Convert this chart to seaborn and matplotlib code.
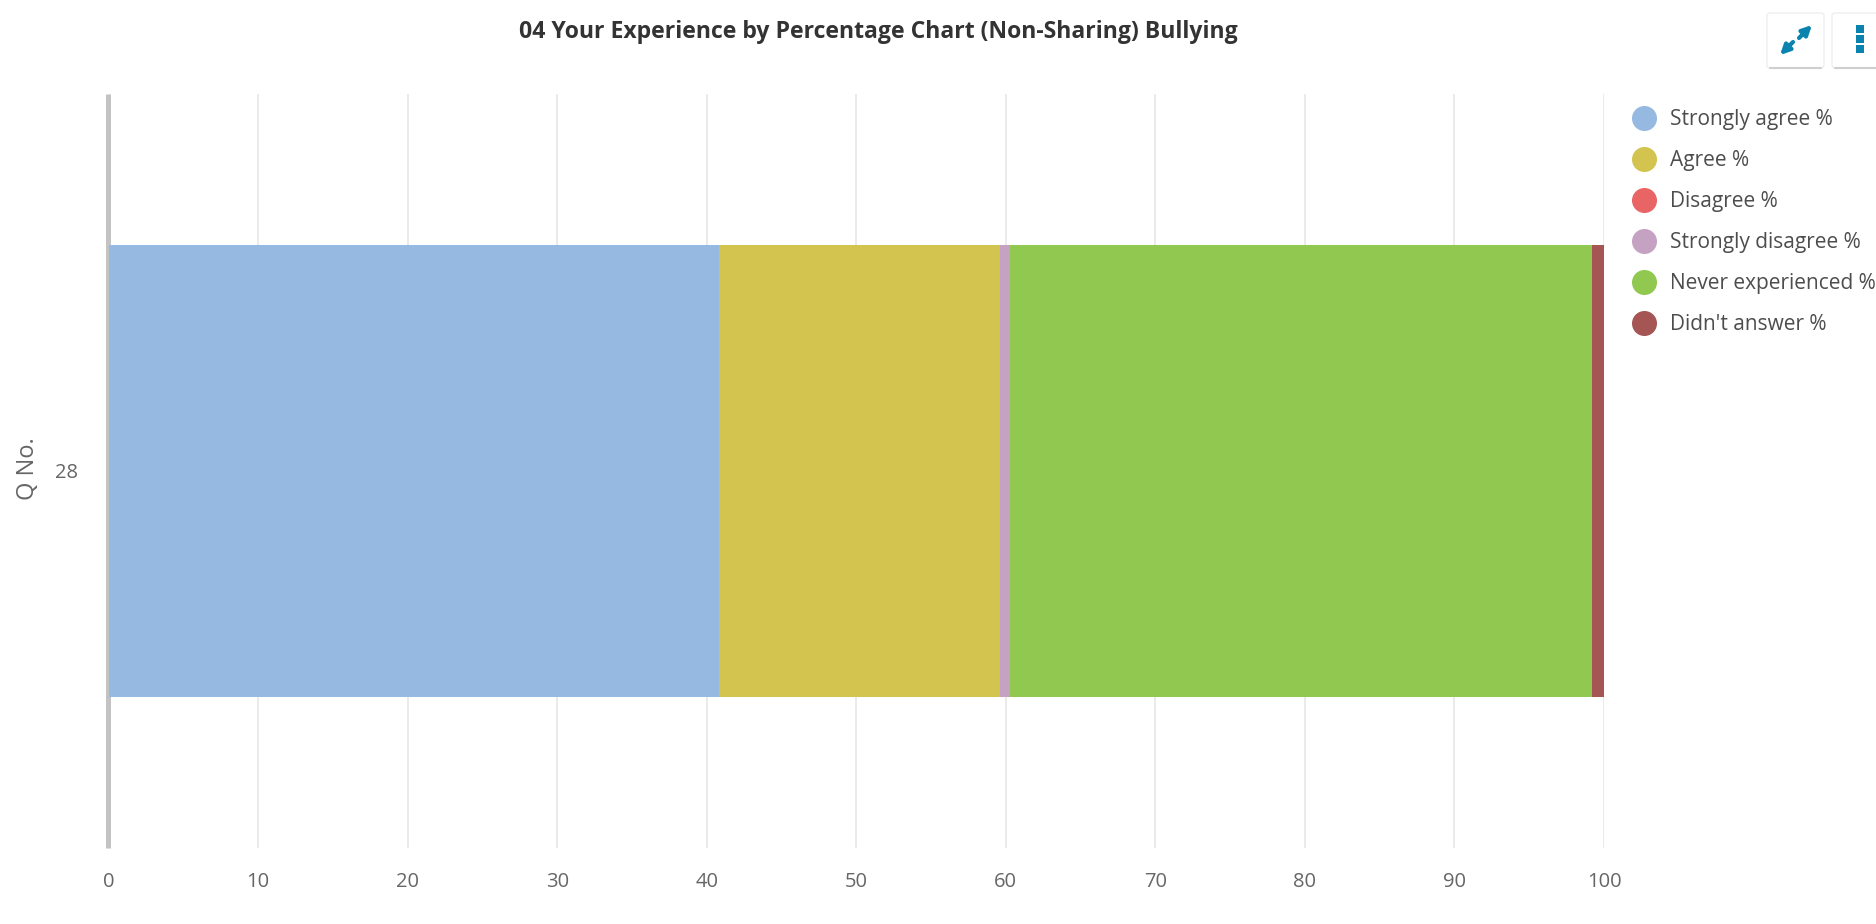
import matplotlib
matplotlib.use('Agg')
import matplotlib.pyplot as plt
import seaborn as sns
from matplotlib.lines import Line2D
from matplotlib.patches import FancyBboxPatch

question = ['28']
series = ['Strongly agree %', 'Agree %', 'Disagree %', 'Strongly disagree %',
          'Never experienced %', "Didn't answer %"]
values = [40.8, 18.8, 0.0, 0.7, 38.9, 0.8]
colors = ['#95b9e0', '#d3c44f', '#e96565', '#c6a2c2', '#90c850', '#a65555']
x_ticks = [0, 10, 20, 30, 40, 50, 60, 70, 80, 90, 100]

W, H = 1876, 924
sns.set_style('white')
plt.rcParams['font.family'] = ['Open Sans', 'DejaVu Sans']

fig = plt.figure(figsize=(W / 100, H / 100), dpi=100, facecolor='white')
ax = fig.add_axes([108.5 / W, 1 - 848 / H, (1604 - 108.5) / W, (848 - 94) / H])

# stacked bar, one barplot call per series
left = 0
for name, val, col in zip(series, values, colors):
    sns.barplot(x=[val], y=question, left=left, width=0.6, color=col, saturation=1,
                linewidth=0, ax=ax, zorder=3)
    left += val

ax.set_xlim(0, 100)
ax.set_ylim(0.5, -0.5)
ax.set_xticks(x_ticks)
ax.set_xticklabels([str(t) for t in x_ticks])
ax.grid(axis='x', color='#e6e6e6', lw=1.2, zorder=0)
ax.grid(axis='y', visible=False)
ax.set_axisbelow(True)
ax.tick_params(axis='x', length=0, pad=17.5, labelsize=14.5, labelcolor='#666666')
ax.tick_params(axis='y', length=0, pad=21, labelsize=14.5, labelcolor='#666666')
ax.set_yticks([-0.5, 0.5], minor=True)
ax.tick_params(axis='y', which='minor', length=6, width=1, color='#ccd6eb')
ax.set_xlabel('')
ax.set_ylabel('')
sns.despine(ax=ax, top=True, right=True, bottom=True)
ax.spines['left'].set_color('#c3c3c3')
ax.spines['left'].set_linewidth(3.6)
ax.spines['left'].set_position(('outward', 0.7))
ax.spines['left'].set_capstyle('butt')

fig.text(28 / W, 1 - 469 / H, 'Q No.', rotation=90, ha='center', va='center',
         fontsize=17, color='#666666')
fig.text(878 / W, 1 - 32 / H, '04 Your Experience by Percentage Chart (Non-Sharing) Bullying',
         ha='center', va='center', fontsize=16.6, fontweight='bold', color='#333333')

# legend
handles = [Line2D([], [], ls='', marker='o', ms=17, mfc=c, mec=c) for c in colors]
leg = fig.legend(handles, series, loc='upper left', bbox_to_anchor=(1627 / W, 1 - 109 / H),
                 bbox_transform=fig.transFigure, frameon=False, fontsize=15,
                 labelcolor='#4d4d4d', labelspacing=0.96, handletextpad=0.45,
                 handlelength=1.6, borderpad=0, borderaxespad=0)

# the two buttons at the top right
overlay = fig.add_axes([0, 0, 1, 1], facecolor='none')
overlay.set_xlim(0, W)
overlay.set_ylim(H, 0)
overlay.axis('off')
blue = '#0a84ae'
for bx, bw in [(1767, 57), (1832, 60)]:
    overlay.add_patch(FancyBboxPatch((bx + 3, 16), bw - 6, 49, boxstyle='round,pad=3',
                                     fc='#ffffff', ec='#eeeeee', lw=1, zorder=1))
    overlay.plot([bx + 3, bx + bw - 3], [68, 68], color='#cfcfcf', lw=1.5, zorder=1)
overlay.annotate('', xy=(1780, 55), xytext=(1793, 42),
                 arrowprops=dict(arrowstyle='-|>', color=blue, lw=3, mutation_scale=14, shrinkA=0, shrinkB=0))
overlay.annotate('', xy=(1812, 25), xytext=(1799, 38),
                 arrowprops=dict(arrowstyle='-|>', color=blue, lw=3, mutation_scale=14, shrinkA=0, shrinkB=0))
overlay.plot([1860, 1860, 1860], [29, 39, 49], ls='', marker='s', ms=5.5, mew=0, color=blue, zorder=2)

fig.savefig('out.png', dpi=100, facecolor='white')
